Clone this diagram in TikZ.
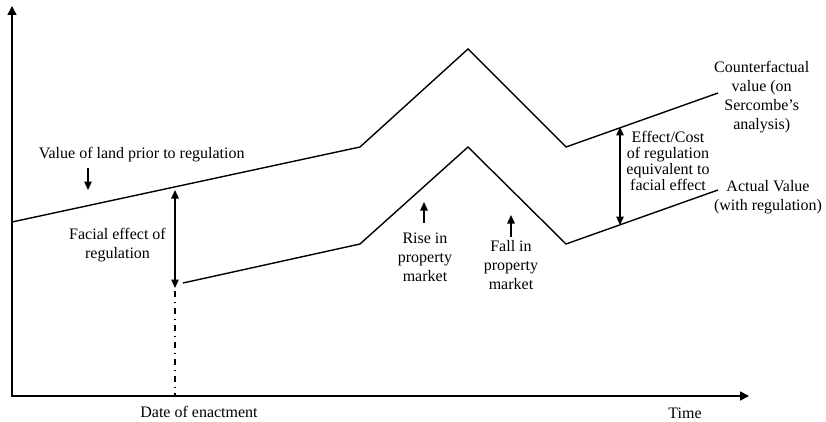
\documentclass[tikz,border=0pt]{standalone}
\usepackage{fontspec}
\setmainfont{Liberation Serif}
\usetikzlibrary{arrows.meta}
\begin{document}
\begin{tikzpicture}[x=1pt,y=-1pt,
  curve/.style={line width=1.4pt, line join=miter},
  axis/.style={line width=1.7pt, {Triangle[length=9pt,width=9pt]}-{Triangle[length=9pt,width=9pt]}},
  pointer/.style={line width=1.4pt, -{Triangle[length=8.5pt,width=7.5pt]}},
  both/.style={line width=1.4pt, {Triangle[length=8.5pt,width=7.5pt]}-{Triangle[length=8.5pt,width=7.5pt]}},
  dashdot/.style={line width=1.5pt, dash pattern=on 6pt off 4.5pt on 1.5pt off 5pt},
  lbl/.style={font=\fontsize{16}{19}\selectfont, align=center, inner sep=0pt, text=black},
  lbltight/.style={font=\fontsize{16}{16}\selectfont, align=center, inner sep=0pt, text=black}]
\useasboundingbox (0,0) rectangle (826,422);
% axes
\coordinate (Ytop) at (12,6);
\coordinate (O) at (12,396);
\coordinate (Xend) at (749,396);
\draw[axis] (Ytop) -- (O) -- (Xend);
% counterfactual line
\coordinate (u0) at (12,222);
\coordinate (u1) at (360,147);
\coordinate (u2) at (468,49);
\coordinate (u3) at (566,147);
\coordinate (u4) at (718,93);
\draw[curve] (u0) -- (u1) -- (u2) -- (u3) -- (u4);
% actual line
\coordinate (l0) at (183,283);
\coordinate (l1) at (360,244);
\coordinate (l2) at (468,147);
\coordinate (l3) at (566,244);
\coordinate (l4) at (718,190);
\draw[curve] (l0) -- (l1) -- (l2) -- (l3) -- (l4);
% facial effect arrow and enactment line
\coordinate (fa1) at (175,190);
\coordinate (fa2) at (175,288);
\coordinate (fa3) at (175,291);
\coordinate (fa4) at (175,396);
\draw[both] (fa1) -- (fa2);
\draw[dashdot] (fa3) -- (fa4);
% effect/cost arrow
\coordinate (ec1) at (620,127);
\coordinate (ec2) at (620,225);
\draw[both] (ec1) -- (ec2);
% pointers
\coordinate (va1) at (88,168);
\coordinate (va2) at (88,190);
\draw[pointer] (va1) -- (va2);
\coordinate (ri1) at (424,223);
\coordinate (ri2) at (424,202);
\draw[pointer] (ri1) -- (ri2);
\coordinate (fl1) at (511,237);
\coordinate (fl2) at (511,215);
\draw[pointer] (fl1) -- (fl2);
% labels
\node[lbl] (value) at (141.7,155) {Value of land prior to regulation};
\node[lbl] (facial) at (117.5,245) {Facial effect of\\regulation};
\node[lbl] (rise) at (425,257) {Rise in\\property\\market};
\node[lbl] (fall) at (511,265) {Fall in\\property\\market};
\node[lbltight] (effect) at (668,161) {Effect/Cost\\of regulation\\equivalent to\\facial effect};
\node[lbl] (counter) at (761.7,97.5) {Counterfactual\\value (on\\Sercombe’s\\analysis)};
\node[lbl] (actual) at (768,197.5) {Actual Value\\(with regulation)};
\node[lbl] (date) at (199,412) {Date of enactment};
\node[lbl] (time) at (685,413.5) {Time};
\end{tikzpicture}
\end{document}
